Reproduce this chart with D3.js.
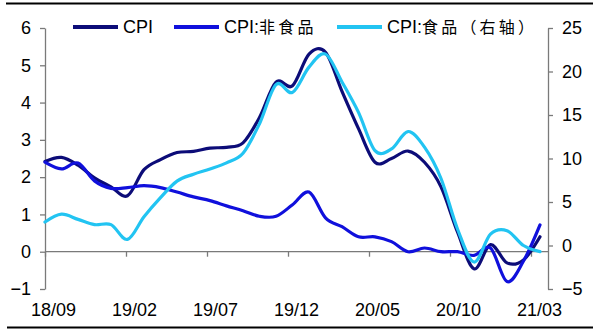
<!DOCTYPE html>
<html><head><meta charset="utf-8">
<script src="https://cdn.jsdelivr.net/npm/d3@7/dist/d3.min.js"></script>
<style>body{margin:0;background:#fff}svg{display:block}</style>
</head><body><svg id="c" width="601" height="330"></svg>
<script>
const months = ["18/09","18/10","18/11","18/12","19/01","19/02","19/03","19/04","19/05","19/06","19/07","19/08",
"19/09","19/10","19/11","19/12","20/01","20/02","20/03","20/04","20/05","20/06","20/07","20/08","20/09","20/10",
"20/11","20/12","21/01","21/02","21/03"];
const cpi = [2.42,2.53,2.32,1.98,1.74,1.5,2.2,2.47,2.66,2.69,2.78,2.8,2.92,3.6,4.55,4.45,5.3,5.35,4.3,3.3,2.4,2.5,2.7,2.4,1.74,0.53,-0.46,0.19,-0.3,-0.22,0.4];
const nonFood = [2.4,2.22,2.38,1.9,1.7,1.72,1.77,1.72,1.6,1.47,1.37,1.23,1.1,0.95,0.95,1.26,1.6,0.91,0.67,0.4,0.4,0.27,0.0,0.1,0.0,0.0,-0.1,0.1,-0.8,-0.25,0.72];
const food = [2.7,3.6,3.0,2.4,2.4,0.7,3.3,5.5,7.4,8.2,8.8,9.5,10.6,14.0,18.5,17.6,20.5,22.0,18.8,15.3,10.9,11.1,13.1,11.3,7.7,1.9,-1.9,1.3,1.7,0.0,-0.7];
const leftTicks = [-1,0,1,2,3,4,5,6];
const rightTicks = [-5,0,5,10,15,20,25];
const xTickLabels = ["18/09","19/02","19/07","19/12","20/05","20/10","21/03"];
const seriesNames = [["CPI",""],["CPI:","非食品"],["CPI:","食品（右轴）"]];
const colors = ["#0c0c78","#1010dc","#22c4f2"];

const svg = d3.select("#c");
const font = "'Liberation Sans', Arial, 'Noto Sans CJK SC', sans-serif";
const L = 45, R = 548, T = 28, B = 289;
const yL = d3.scaleLinear().domain([-1,6]).range([B,T]);
const yR = d3.scaleLinear().domain([-5,25]).range([B,T]);
const xData = d3.scalePoint().domain(months).range([L,540]);
const xTick = d3.scalePoint().domain(xTickLabels).range([L,531]);
const axisColor = "#7a7a7a";

svg.append("line").attr("x1",6).attr("x2",593).attr("y1",3.5).attr("y2",3.5).attr("stroke","#000").attr("stroke-width",2);
svg.append("line").attr("x1",7).attr("x2",593).attr("y1",327.5).attr("y2",327.5).attr("stroke","#000").attr("stroke-width",2);

function styleAxis(g, size){
  g.select(".domain").attr("stroke",axisColor).attr("stroke-width",1.3);
  g.selectAll(".tick line").attr("stroke",axisColor).attr("stroke-width",1.3);
  g.selectAll("text").attr("fill","#000").style("font-family",font).style("font-size",size+"px");
}
const gl = svg.append("g").attr("transform",`translate(${L},0)`)
  .call(d3.axisLeft(yL).tickValues(leftTicks).tickFormat(d3.format("d")).tickSize(5).tickSizeOuter(0).tickPadding(9));
styleAxis(gl, 18);
const gr = svg.append("g").attr("transform",`translate(${R},0)`)
  .call(d3.axisRight(yR).tickValues(rightTicks).tickFormat(d3.format("d")).tickSize(5).tickSizeOuter(0).tickPadding(9));
styleAxis(gr, 18);
svg.append("line").attr("x1",L).attr("x2",R).attr("y1",yL(0)).attr("y2",yL(0)).attr("stroke",axisColor).attr("stroke-width",1.3);
const gx = svg.append("g").attr("transform",`translate(0,${yL(0)})`)
  .call(d3.axisBottom(xTick).tickSize(5).tickSizeOuter(0).tickPadding(47));
gx.select(".domain").remove();
styleAxis(gx, 18);
gx.selectAll(".tick text").attr("x", 8);

const seriesData = [{v:cpi, y:yL},{v:nonFood, y:yL},{v:food, y:yR}];
seriesData.forEach((s,i)=>{
  const line = d3.line().x((d,j)=>xData(months[j])).y(d=>s.y(d)).curve(d3.curveCatmullRom.alpha(0));
  svg.append("path").datum(s.v).attr("d",line).attr("fill","none")
    .attr("stroke",colors[i]).attr("stroke-width",3.2).attr("stroke-linejoin","round").attr("stroke-linecap","round");
});

const legX = [73,174,337];
const leg = svg.append("g");
seriesNames.forEach((n,i)=>{
  leg.append("line").attr("x1",legX[i]).attr("x2",legX[i]+45).attr("y1",27).attr("y2",27)
    .attr("stroke",colors[i]).attr("stroke-width",4);
  const t = leg.append("text").attr("x",legX[i]+50).attr("y",27).attr("dy","0.36em")
    .style("font-family",font).style("font-size","18px").attr("fill","#000");
  t.append("tspan").text(n[0]);
  if(n[1]) t.append("tspan").style("font-size","16px").style("letter-spacing","3.2px").text(n[1]);
});
</script></body></html>
